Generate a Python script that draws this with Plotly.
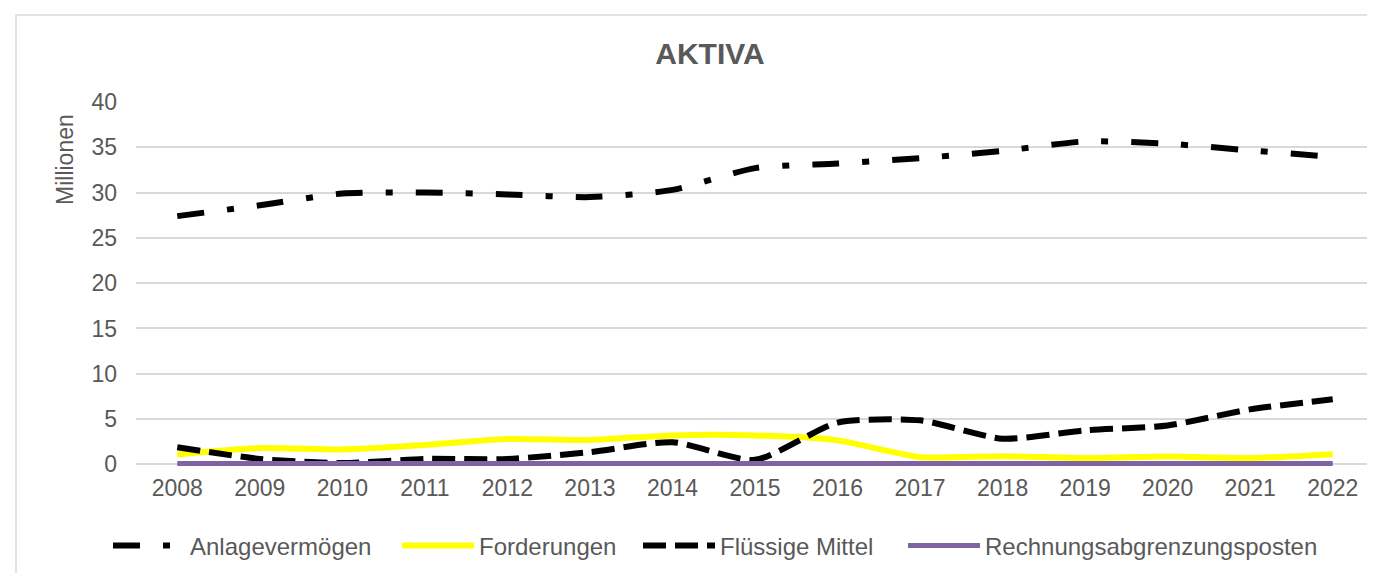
import plotly.graph_objects as go

years = ["2008", "2009", "2010", "2011", "2012", "2013", "2014", "2015",
         "2016", "2017", "2018", "2019", "2020", "2021", "2022"]
anlagevermoegen = [27.4, 28.6, 29.9, 30.0, 29.8, 29.5, 30.3, 32.7, 33.2, 33.8, 34.6, 35.65, 35.4, 34.65, 33.95]
forderungen = [1.1, 1.8, 1.65, 2.15, 2.8, 2.7, 3.2, 3.2, 2.65, 0.8, 0.9, 0.7, 0.87, 0.7, 1.13]
fluessige_mittel = [1.9, 0.6, 0.15, 0.6, 0.6, 1.35, 2.45, 0.5, 4.6, 4.86, 2.83, 3.75, 4.3, 6.07, 7.18]
rechnungsabgrenzung = [0.1, 0.1, 0.1, 0.1, 0.1, 0.1, 0.1, 0.1, 0.1, 0.1, 0.1, 0.1, 0.1, 0.1, 0.1]
y_ticks = [0, 5, 10, 15, 20, 25, 30, 35, 40]

W, H = 1375, 573
# small negative y-range floor so thick lines near zero are not clipped
YMIN, YMAX = -0.4, 40
ML, MR, MT, MB = 128, 9, 94, 113
PW, PH = W - ML - MR, H - MT - MB
FONT = "Liberation Sans, Arial, sans-serif"
GREY = "#595959"
SMOOTH = 0.65

# legend item left edges (px) in the chart, one legend box per series
legend_x_px = [100, 389, 630, 895]
legend_y_px = 538

fig = go.Figure()
fig.add_trace(go.Scatter(x=years, y=anlagevermoegen, name="Anlagevermögen", mode="lines", legend="legend",
                         line=dict(color="#000000", width=6, dash="27px,23px,7px,23px",
                                   shape="spline", smoothing=SMOOTH)))
fig.add_trace(go.Scatter(x=years, y=forderungen, name="Forderungen", mode="lines", legend="legend2",
                         line=dict(color="#FFFF00", width=6, shape="spline", smoothing=SMOOTH)))
fig.add_trace(go.Scatter(x=years, y=fluessige_mittel, name="Flüssige Mittel", mode="lines", legend="legend3",
                         line=dict(color="#000000", width=6, dash="23px,9px",
                                   shape="spline", smoothing=SMOOTH)))
fig.add_trace(go.Scatter(x=years, y=rechnungsabgrenzung, name="Rechnungsabgrenzungsposten", mode="lines",
                         legend="legend4",
                         line=dict(color="#8064A2", width=5, shape="spline", smoothing=SMOOTH)))

def px_to_paper_x(px):
    return (px - ML) / PW

def px_to_paper_y(py):
    return (H - MB - py) / PH

fig.add_shape(type="rect", xref="paper", yref="paper",
              x0=px_to_paper_x(8), x1=px_to_paper_x(1368),
              y0=px_to_paper_y(620), y1=px_to_paper_y(7),
              line=dict(color="#D9D9D9", width=1.5), fillcolor="rgba(0,0,0,0)", layer="below")

fig.add_annotation(text="Millionen", xref="paper", yref="paper",
                   x=px_to_paper_x(57), y=px_to_paper_y(152), textangle=-90,
                   showarrow=False, xanchor="center", yanchor="middle",
                   font=dict(family=FONT, size=23, color=GREY))

def legend_cfg(xpx):
    return dict(orientation="h", xref="container", yref="container",
                x=xpx / W, y=1 - legend_y_px / H, xanchor="left", yanchor="middle",
                font=dict(family=FONT, size=24, color=GREY), itemwidth=72,
                bgcolor="rgba(0,0,0,0)", borderwidth=0)

fig.update_layout(
    width=W, height=H,
    margin=dict(l=ML, r=MR, t=MT, b=MB),
    paper_bgcolor="white", plot_bgcolor="white",
    title=dict(text="<b>AKTIVA</b>", x=702 / W, y=1 - 45.5 / H, xref="container", yref="container",
               xanchor="center", yanchor="middle",
               font=dict(family=FONT, size=30, color=GREY)),
    font=dict(family=FONT, size=23, color=GREY),
    legend=legend_cfg(legend_x_px[0]),
    legend2=legend_cfg(legend_x_px[1]),
    legend3=legend_cfg(legend_x_px[2]),
    legend4=legend_cfg(legend_x_px[3]),
    showlegend=True,
)
fig.update_xaxes(type="category", range=[-0.5, 14.5], showgrid=False, showline=False,
                 zeroline=False, ticks="", tickfont=dict(family=FONT, size=23, color=GREY),
                 ticklabelstandoff=4)
fig.update_yaxes(range=[YMIN, YMAX], tickvals=y_ticks, showgrid=True, gridcolor="#D9D9D9",
                 gridwidth=1.5, zeroline=False, showline=False, ticks="",
                 tickfont=dict(family=FONT, size=23, color=GREY), ticklabelstandoff=18)

fig.write_html("out.html")
